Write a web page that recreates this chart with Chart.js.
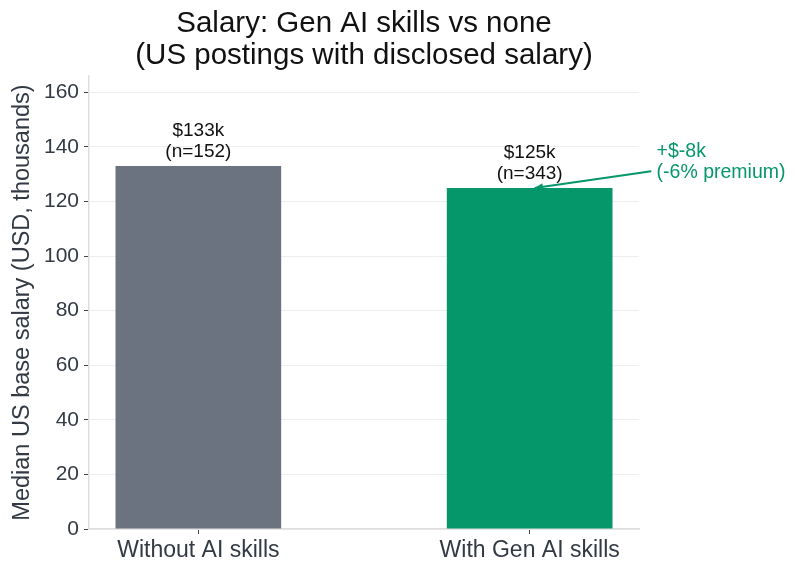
<!DOCTYPE html>
<html>
<head>
<meta charset="utf-8">
<script src="https://cdn.jsdelivr.net/npm/chart.js@4/dist/chart.umd.min.js"></script>
<style>
  html, body { margin: 0; padding: 0; background: #fff; }
  #wrap { width: 799px; height: 574px; }
</style>
</head>
<body>
<div id="wrap"><canvas id="c" width="799" height="574"></canvas></div>
<script>
const categories = ['Without AI skills', 'With Gen AI skills'];
const medians = [133, 125];
const counts = [152, 343];
const barColors = ['#6b7280', '#059669'];
const yTicks = [0, 20, 40, 60, 80, 100, 120, 140, 160];
const premiumLines = ['+$-8k', '(-6% premium)'];

const FONT = '"Liberation Sans", Arial, sans-serif';
const TEXT = '#333a44';
const GREEN = '#059669';

// value labels + premium annotation, drawn through the scales
const annotatePlugin = {
  id: 'annotate',
  afterDatasetsDraw(chart) {
    const { ctx, scales: { x, y } } = chart;
    ctx.save();
    ctx.font = '19px ' + FONT;
    ctx.fillStyle = '#111';
    ctx.textAlign = 'center';
    ctx.textBaseline = 'alphabetic';
    medians.forEach((v, i) => {
      const px = x.getPixelForValue(i);
      const py = y.getPixelForValue(v);
      ctx.fillText('$' + v + 'k', px, py - 30);
      ctx.fillText('(n=' + counts[i] + ')', px, py - 9);
    });

    // premium note with arrow
    const tipX = x.getPixelForValue(1.015), tipY = y.getPixelForValue(medians[1]);
    const tx = x.getPixelForValue(1.383);
    ctx.fillStyle = GREEN;
    ctx.textAlign = 'left';
    ctx.font = '19.5px ' + FONT;
    ctx.fillText(premiumLines[0], tx, y.getPixelForValue(136.3));
    ctx.fillText(premiumLines[1], tx, y.getPixelForValue(128.6));
    const sx = x.getPixelForValue(1.367), sy = y.getPixelForValue(131.1);
    ctx.strokeStyle = GREEN;
    ctx.lineWidth = 2;
    ctx.beginPath();
    ctx.moveTo(sx, sy);
    ctx.lineTo(tipX, tipY);
    ctx.stroke();
    const ang = Math.atan2(tipY - sy, tipX - sx);
    ctx.beginPath();
    ctx.moveTo(tipX, tipY);
    ctx.lineTo(tipX - 9 * Math.cos(ang - 0.4), tipY - 9 * Math.sin(ang - 0.4));
    ctx.lineTo(tipX - 9 * Math.cos(ang + 0.4), tipY - 9 * Math.sin(ang + 0.4));
    ctx.closePath();
    ctx.fill();
    ctx.restore();
  }
};

new Chart(document.getElementById('c'), {
  type: 'bar',
  data: {
    datasets: [{
      data: medians.map((v, i) => ({ x: i, y: v })),
      backgroundColor: barColors,
      borderWidth: 0,
      barPercentage: 0.5,
      categoryPercentage: 1
    }]
  },
  options: {
    responsive: false,
    animation: false,
    devicePixelRatio: 1,
    layout: { padding: { top: 6, left: 8, right: 160, bottom: 4 } },
    plugins: {
      legend: { display: false },
      tooltip: { enabled: false },
      title: {
        display: true,
        fullSize: false,
        text: ['Salary: Gen AI skills vs none', '(US postings with disclosed salary)'],
        color: '#111',
        font: { family: FONT, size: 29.5, weight: 'normal', lineHeight: 1.085 },
        padding: { top: 2, bottom: 4 }
      }
    },
    scales: {
      x: {
        type: 'linear',
        offset: false,
        min: -0.33,
        max: 1.33,
        afterBuildTicks(s) { s.ticks = categories.map((_, i) => ({ value: i })); },
        afterFit(s) { s.height = 41; },
        ticks: {
          callback: v => categories[v],
          color: TEXT,
          font: { family: FONT, size: 23 },
          padding: 3
        },
        grid: { offset: false, drawOnChartArea: false, tickColor: '#444', tickLength: 5 },
        border: { color: '#dddddd', width: 1.5 }
      },
      y: {
        min: 0,
        max: 166,
        afterBuildTicks(s) { s.ticks = yTicks.map(v => ({ value: v })); },
        afterFit(s) { s.width = 81; },
        ticks: {
          color: TEXT,
          font: { family: FONT, size: 21 },
          padding: 5
        },
        title: {
          display: true,
          text: 'Median US base salary (USD, thousands)',
          color: TEXT,
          font: { family: FONT, size: 23.5 },
          padding: { top: 0, bottom: 3 }
        },
        grid: { color: '#eeeeee', lineWidth: 1, tickColor: '#444', tickLength: 5 },
        border: { color: '#dddddd', width: 1.5 }
      }
    }
  },
  plugins: [annotatePlugin]
});
</script>
</body>
</html>
